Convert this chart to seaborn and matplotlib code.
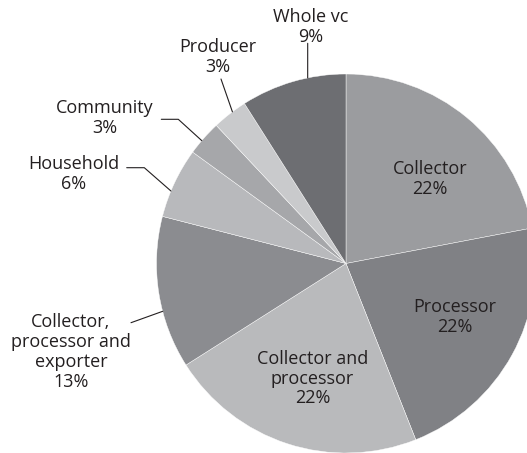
import matplotlib
matplotlib.use("Agg")
import matplotlib.pyplot as plt
import seaborn as sns
import numpy as np

# Value-chain actor groups and their shares (%)
categories = ["Collector", "Processor", "Collector and\nprocessor",
              "Collector,\nprocessor and\nexporter", "Household",
              "Community", "Producer", "Whole vc"]
shares = [22, 22, 22, 13, 6, 3, 3, 9]
colors = ["#9b9c9f", "#808185", "#b9babc", "#8b8c90",
          "#b8b9bc", "#a6a7aa", "#c9cacc", "#6d6e72"]

sns.set_theme(style="white")
plt.rcParams["font.family"] = ["Open Sans", "DejaVu Sans"]

W, H = 527, 453
fig = plt.figure(figsize=(W / 100, H / 100), dpi=100)
ax = fig.add_axes([0, 0, 1, 1])


def px(x, y):
    """Pixel position (origin top-left) to data coordinates."""
    return x, H - y


cx, cy = px(346, 263.5)
radius = 189.5
wedges, _ = ax.pie(shares, colors=colors, startangle=90, counterclock=False,
                   center=(cx, cy), radius=radius, frame=True,
                   wedgeprops=dict(edgecolor="white", linewidth=0.3))
ax.set_xlim(0, W)
ax.set_ylim(0, H)
ax.set_aspect("equal")
ax.axis("off")

text_color = "#231f20"
fs = 13
ls = 1.13

# Labels inside the large wedges
inside = {0: (430, 179), 1: (455, 317), 2: (312.5, 378.5)}
for i, (x, y) in inside.items():
    ax.text(*px(x, y), f"{categories[i]}\n{shares[i]}%", ha="center",
            va="center", fontsize=fs, color=text_color, linespacing=ls)

# Labels outside the small wedges, with leader lines to the wedge rim
outside = {
    3: ((71, 352), [(131, 322.7)], 0.62),
    4: ((74, 174), [(126.7, 167.7), (144.3, 167.7)], 0.625),
    5: ((105, 118), [(161.3, 119.3), (178.3, 119.3)], 0.59),
    6: ((218, 57), [(221, 79)], 0.41),
    7: ((311, 27), [(307.7, 43.3)], 0.36),
}
for i, ((x, y), path, frac) in outside.items():
    ax.text(*px(x, y), f"{categories[i]}\n{shares[i]}%", ha="center",
            va="center", fontsize=fs, color=text_color, linespacing=ls)
    w = wedges[i]
    ang = np.deg2rad(w.theta1 + frac * (w.theta2 - w.theta1))
    ex, ey = cx + radius * np.cos(ang), cy + radius * np.sin(ang)
    pts = [px(a, b) for a, b in path] + [(ex, ey)]
    xs, ys = zip(*pts)
    ax.plot(xs, ys, color="#231f20", linewidth=0.8)

fig.savefig("out.png", dpi=100)
